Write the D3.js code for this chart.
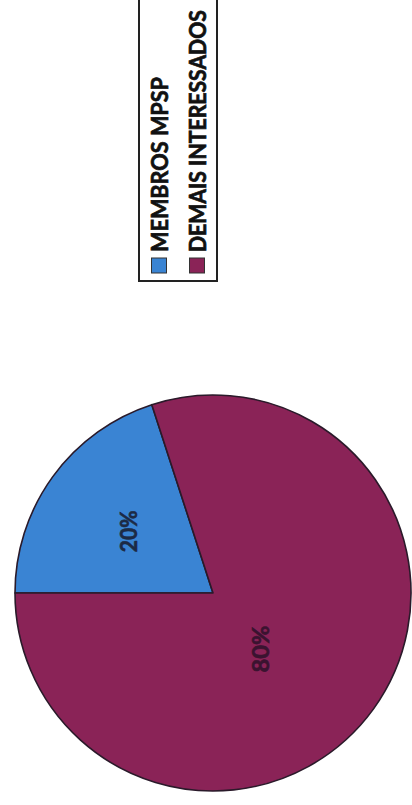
<!DOCTYPE html>
<html>
<head>
<meta charset="utf-8">
<script src="https://cdn.jsdelivr.net/npm/d3@7"></script>
<style>
  html, body { margin: 0; padding: 0; background: #ffffff; }
  svg { display: block; }
</style>
</head>
<body>
<svg id="chart" width="412" height="805"></svg>
<script>
const categories = ["MEMBROS MPSP", "DEMAIS INTERESSADOS"];
const values = [20, 80];
const valueLabels = ["20%", "80%"];
const colors = ["#3a84d3", "#8a2357"];

const svg = d3.select("#chart");
const cx = 213, cy = 593, R = 198;
const FONT = "Lato, 'Open Sans', 'DejaVu Sans', sans-serif";

const color = d3.scaleOrdinal().domain(categories).range(colors);

const pie = d3.pie().sort(null).value(d => d.value)
  .startAngle(1.5 * Math.PI).endAngle(3.5 * Math.PI);
const data = categories.map((c, i) => ({ cat: c, value: values[i], label: valueLabels[i] }));
const arcs = pie(data);
const arc = d3.arc().innerRadius(0).outerRadius(R);

const g = svg.append("g").attr("transform", `translate(${cx},${cy})`);
g.selectAll("path.slice").data(arcs).enter().append("path")
  .attr("class", "slice")
  .attr("d", arc)
  .attr("fill", d => color(d.data.cat))
  .attr("stroke", "#2a1a2a")
  .attr("stroke-width", 1.6)
  .attr("stroke-linejoin", "round");

// data labels (rotated, reading bottom-to-top)
const labelR = [0.53, 0.37];
const labelShift = [0, 0.24];
const labelLen = [42, 47];
const labelColor = ["#1c2a45", "#3a1330"];
g.selectAll("text.lbl").data(arcs).enter().append("text")
  .attr("class", "lbl")
  .attr("transform", (d, i) => {
    const a = (d.startAngle + d.endAngle) / 2 + labelShift[i];
    const r = R * labelR[i];
    const x = Math.sin(a) * r, y = -Math.cos(a) * r;
    return `translate(${x},${y}) rotate(-90)`;
  })
  .attr("text-anchor", "middle")
  .attr("dominant-baseline", "central")
  .attr("font-family", FONT)
  .attr("font-weight", "bold")
  .attr("font-size", 22)
  .attr("textLength", (d, i) => labelLen[i])
  .attr("lengthAdjust", "spacingAndGlyphs")
  .attr("fill", (d, i) => labelColor[i])
  .attr("stroke", (d, i) => labelColor[i])
  .attr("stroke-width", 0.6)
  .text(d => d.data.label);

// legend (rotated)
const legend = svg.append("g");
legend.append("rect")
  .attr("x", 139).attr("y", -6)
  .attr("width", 78).attr("height", 287)
  .attr("fill", "#ffffff")
  .attr("stroke", "#222222")
  .attr("stroke-width", 2);

const legX = d3.scalePoint().domain(categories).range([159, 197]);
const textLen = [175, 242];
categories.forEach((c, i) => {
  const x = legX(c);
  legend.append("rect")
    .attr("x", x - 7.5).attr("y", 258)
    .attr("width", 15).attr("height", 15)
    .attr("fill", color(c))
    .attr("stroke", "#333333")
    .attr("stroke-width", 1);
  legend.append("text")
    .attr("transform", `translate(${x + 9},252) rotate(-90)`)
    .attr("text-anchor", "start")
    .attr("font-family", FONT)
    .attr("font-weight", "bold")
    .attr("font-size", 22)
    .attr("textLength", textLen[i])
    .attr("lengthAdjust", "spacingAndGlyphs")
    .attr("fill", "#111111")
    .attr("stroke", "#111111")
    .attr("stroke-width", 0.7)
    .text(c);
});
</script>
</body>
</html>
